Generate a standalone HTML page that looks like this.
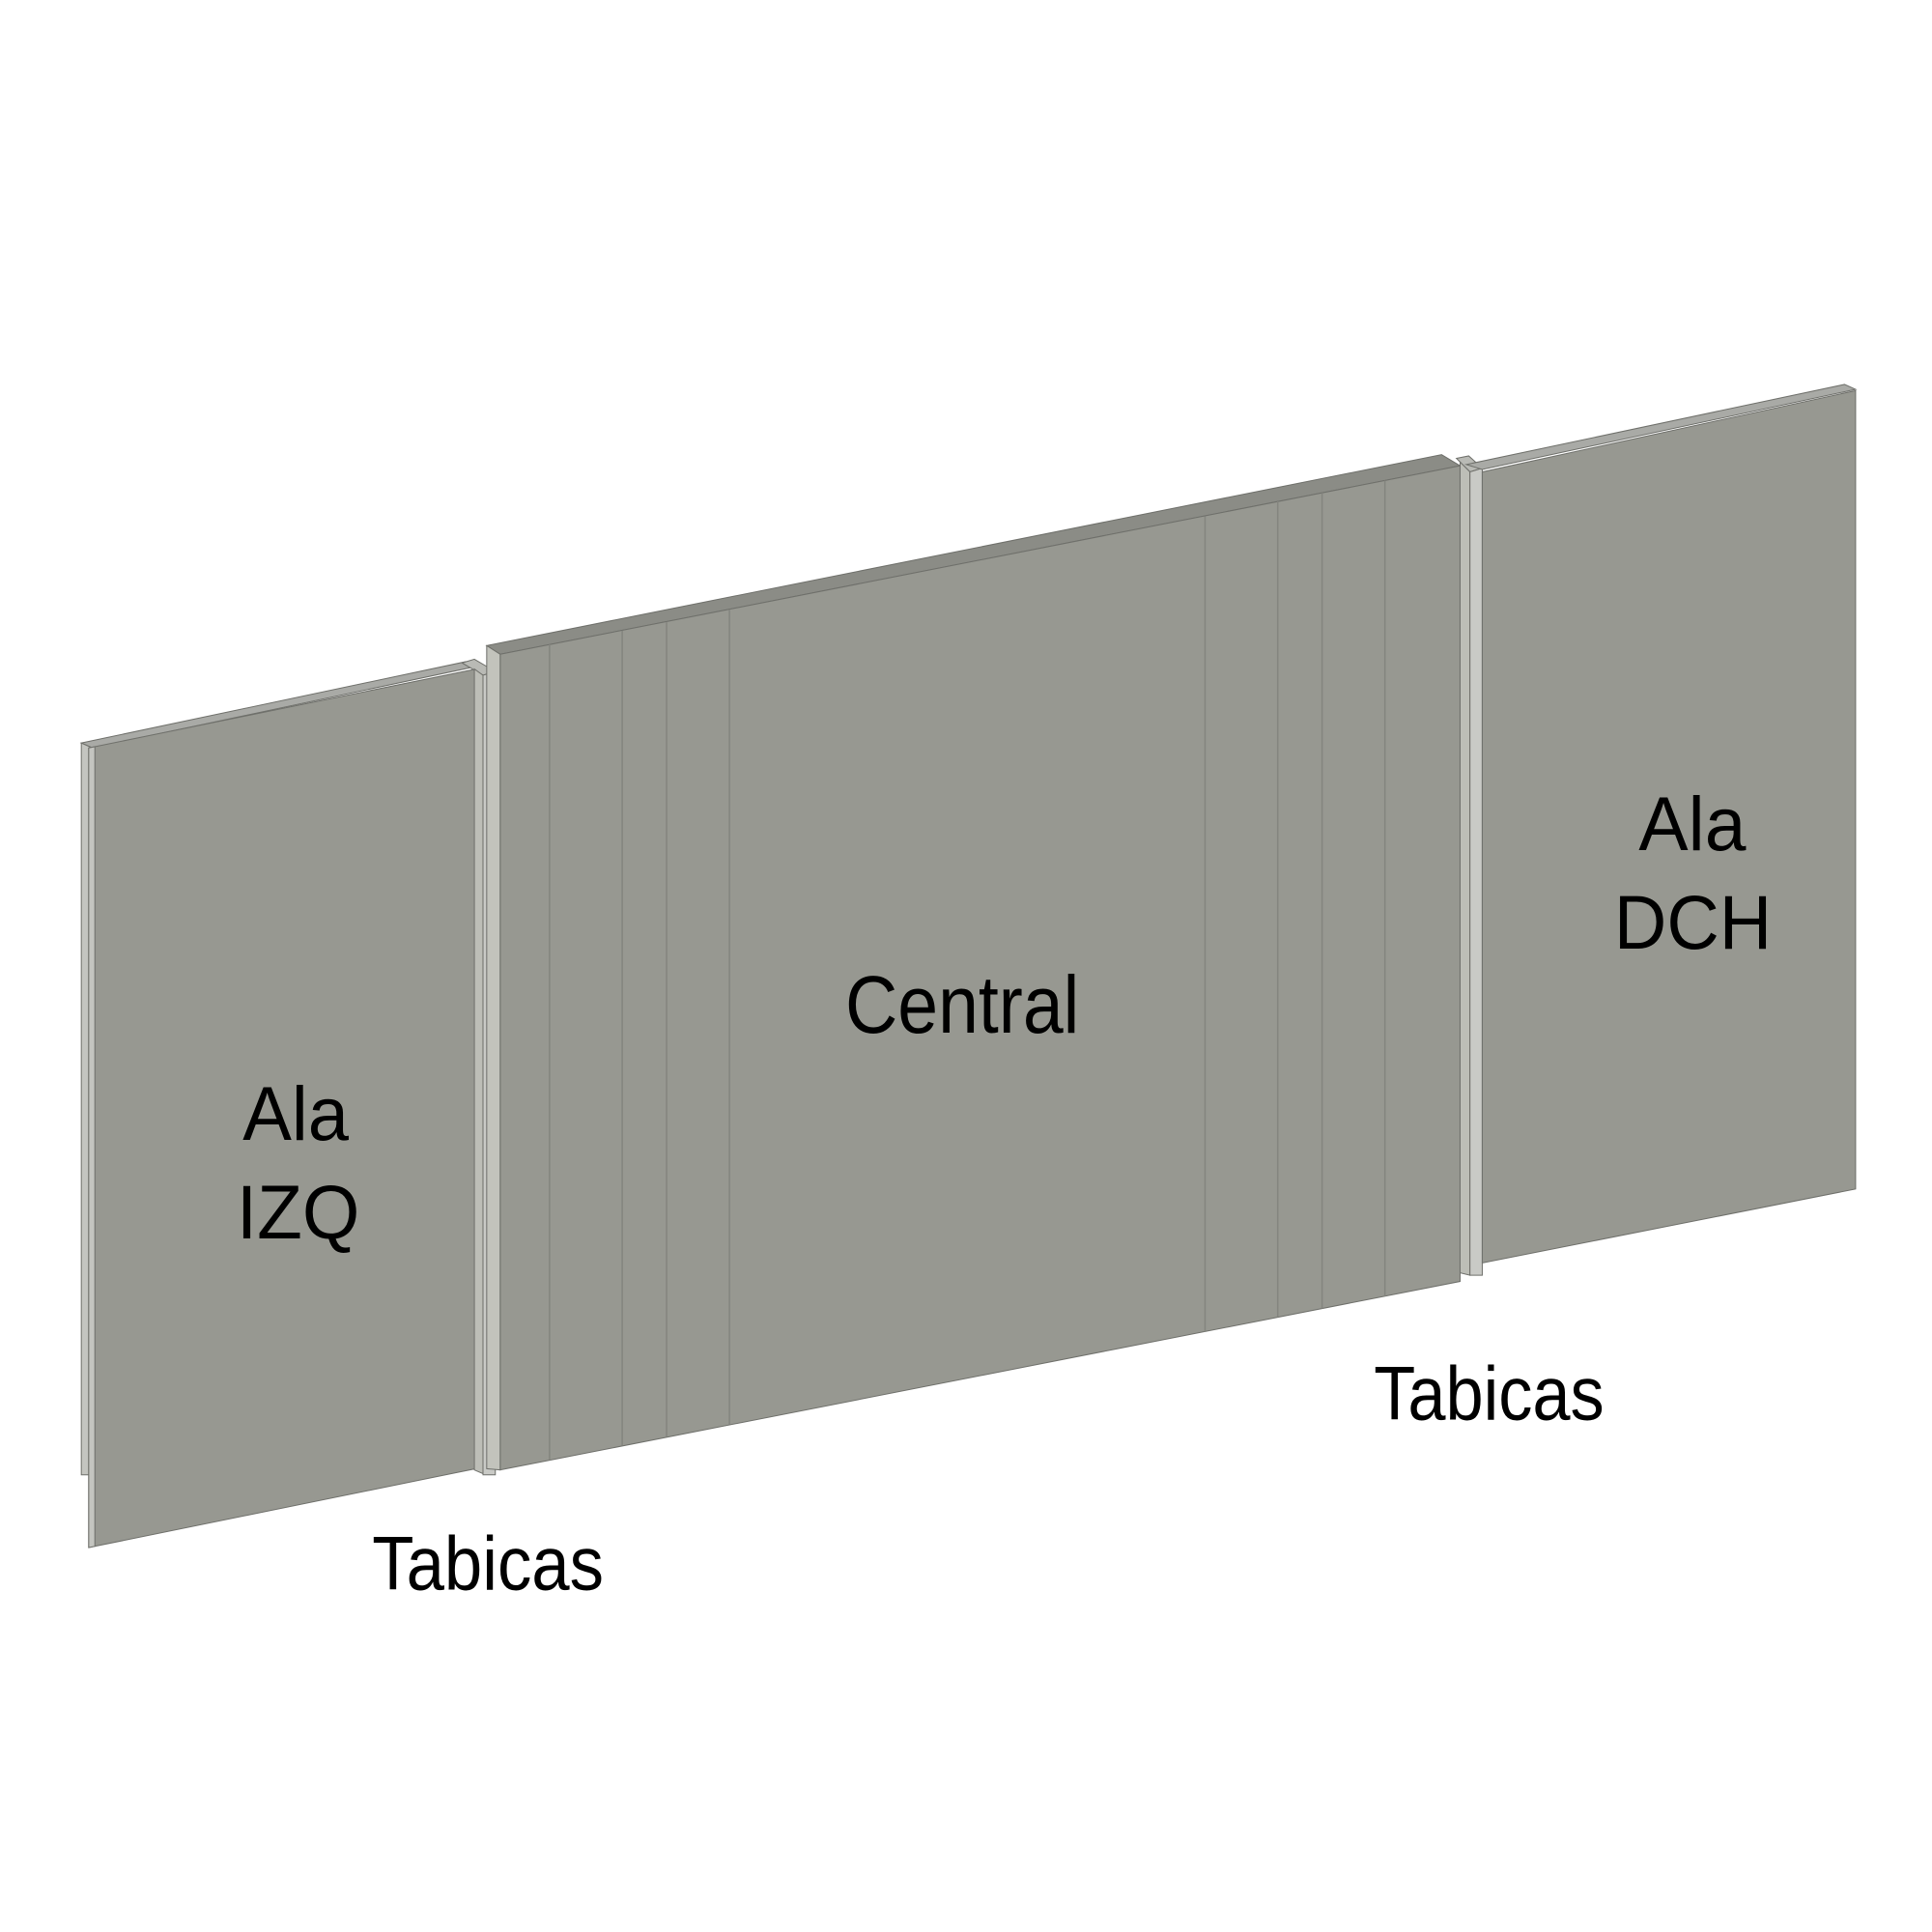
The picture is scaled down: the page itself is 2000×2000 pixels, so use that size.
<!DOCTYPE html>
<html><head><meta charset="utf-8"><style>html,body{margin:0;padding:0;background:#fff}svg{display:block}text{font-family:"Liberation Sans",sans-serif;fill:#000}</style></head>
<body>
<svg width="2000" height="2000" viewBox="0 0 1568 1568" xmlns="http://www.w3.org/2000/svg">
<g stroke="#6f706b" stroke-width="0.8">
<polygon points="66,603 378,537 386,541 75,607" fill="#a9aaa6"/>
<polygon points="66,603 75,607 75,1197 66,1197" fill="#c4c5c0"/>
<polygon points="72,607 386,543 386,1192 72,1256" fill="#979891"/>
<polygon points="72,607 77,606 77,1255 72,1256" fill="#c4c5c0"/>
</g>
<g stroke="#6f706b" stroke-width="0.8">
<polygon points="375,538 385,535 402,545 392,548" fill="#b9bab5"/>
<polygon points="385,543 392,548 392,1196 385,1193" fill="#bdbeb7"/>
<polygon points="392,548 402,545 402,1197 392,1197" fill="#c9cac6"/>
</g>
<g stroke="#6f706b" stroke-width="0.8">
<polygon points="395,524 1170,369 1185,378 406,531" fill="#8b8c86"/>
<polygon points="395,524 406,531 406,1193 395,1192" fill="#c2c3bc"/>
<polygon points="406,531 1185,378 1185,1040 406,1193" fill="#979891"/>
<g stroke="#84857f" stroke-width="1.2">
<line x1="446" y1="523" x2="446" y2="1185"/>
<line x1="505" y1="512" x2="505" y2="1173"/>
<line x1="541" y1="505" x2="541" y2="1166"/>
<line x1="592" y1="495" x2="592" y2="1156"/>
<line x1="978" y1="419" x2="978" y2="1081"/>
<line x1="1037" y1="407" x2="1037" y2="1069"/>
<line x1="1073" y1="400" x2="1073" y2="1062"/>
<line x1="1124" y1="390" x2="1124" y2="1052"/>
</g>
</g>
<g stroke="#6f706b" stroke-width="0.8">
<polygon points="1182,372 1192,370 1203,380 1193,383" fill="#b9bab5"/>
<polygon points="1185,375 1193,383 1193,1035 1185,1033" fill="#bdbeb7"/>
<polygon points="1193,383 1203,380 1203,1035 1193,1035" fill="#c9cac6"/>
</g>
<g stroke="#6f706b" stroke-width="0.8">
<polygon points="1190,377 1497,312 1506,316 1203,381" fill="#a9aaa6"/>
<polygon points="1203,383 1506,317 1506,965 1203,1025" fill="#979891"/>
</g>
<text x="197" y="925" font-size="62" textLength="86" lengthAdjust="spacingAndGlyphs">Ala</text>
<text x="192" y="1005" font-size="62" textLength="100" lengthAdjust="spacingAndGlyphs">IZQ</text>
<text x="686" y="838" font-size="66" textLength="190" lengthAdjust="spacingAndGlyphs">Central</text>
<text x="1330" y="690" font-size="62" textLength="87" lengthAdjust="spacingAndGlyphs">Ala</text>
<text x="1310" y="770" font-size="62" textLength="128" lengthAdjust="spacingAndGlyphs">DCH</text>
<text x="302" y="1290" font-size="62" textLength="188" lengthAdjust="spacingAndGlyphs">Tabicas</text>
<text x="1115" y="1152" font-size="62" textLength="187" lengthAdjust="spacingAndGlyphs">Tabicas</text>
</svg>
</body></html>
